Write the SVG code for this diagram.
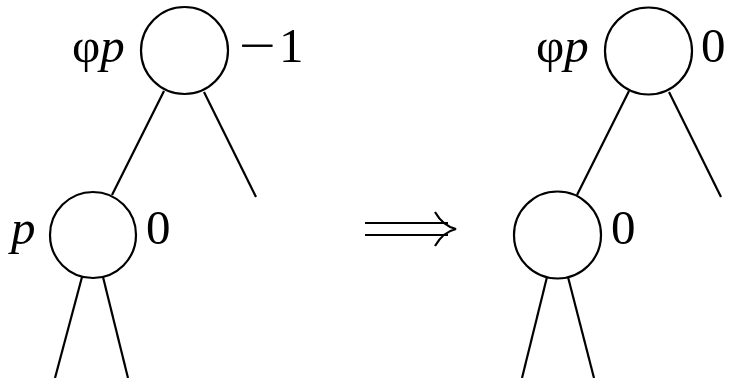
<svg xmlns="http://www.w3.org/2000/svg" width="729" height="378" viewBox="0 0 729 378">
<style>
.node{fill:none;stroke:#000;stroke-width:2.2}
.edge{stroke:#000;stroke-width:2.2;fill:none;stroke-linecap:butt}
text{font-family:'Liberation Serif',serif;font-size:49px;fill:#000}
.i{font-style:italic}
</style>
<rect width="729" height="378" fill="#fff"/>
<g id="connectors">
<line class="edge" x1="164" y1="91" x2="112" y2="195"/>
<line class="edge" x1="204" y1="92" x2="256" y2="197"/>
<line class="edge" x1="82" y1="277" x2="55" y2="378"/>
<line class="edge" x1="103" y1="277" x2="128" y2="378"/>
<line class="edge" x1="629" y1="91" x2="577" y2="195"/>
<line class="edge" x1="669" y1="92" x2="721" y2="197"/>
<line class="edge" x1="547" y1="277" x2="522" y2="378"/>
<line class="edge" x1="568" y1="277" x2="594" y2="378"/>
</g>
<g id="arrow">
<line class="edge" x1="365" y1="223" x2="448" y2="223"/>
<line class="edge" x1="365" y1="235" x2="448" y2="235"/>
<path class="edge" d="M435,212 Q443,226 456,229 Q443,232 435,246"/>
</g>
<g id="left-phi-p">
<circle class="node" cx="184.5" cy="50.5" r="43.5"/>
<text x="72" y="62">φ<tspan class="i">p</tspan></text>
<text x="239" y="62" textLength="37" lengthAdjust="spacingAndGlyphs">−</text>
<text x="279" y="62">1</text>
</g>
<g id="left-p">
<circle class="node" cx="93" cy="235" r="43"/>
<text class="i" x="11" y="244">p</text>
<text x="146" y="244">0</text>
</g>
<g id="right-phi-p">
<circle class="node" cx="648.5" cy="51" r="43.5"/>
<text x="536" y="62">φ<tspan class="i">p</tspan></text>
<text x="701" y="62">0</text>
</g>
<g id="right-child">
<circle class="node" cx="557.5" cy="235" r="43.5"/>
<text x="611" y="244">0</text>
</g>
</svg>
